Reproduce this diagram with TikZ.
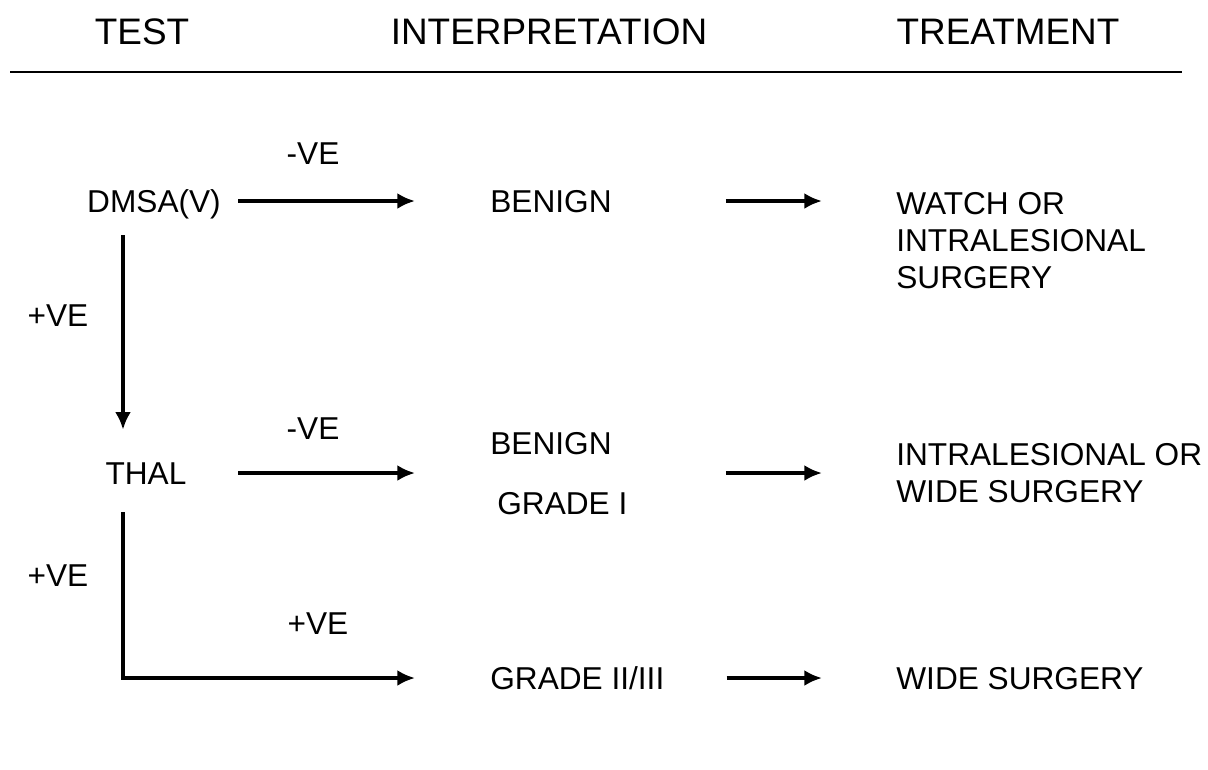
\documentclass[tikz,border=0pt]{standalone}
\usepackage{fontspec}
\setmainfont{Liberation Sans}
\usetikzlibrary{arrows.meta}
\tikzset{
  txt/.style={inner sep=0pt,font=\fontsize{18}{21}\selectfont},
  row/.style={txt,text height=13pt,text depth=0pt},
  head/.style={inner sep=0pt,font=\fontsize{21}{25}\selectfont},
  arr/.style={line width=2pt,-{Latex[length=10pt,width=9pt]}}
}
\begin{document}
\begin{tikzpicture}[x=0.02cm,y=-0.02cm]
  \useasboundingbox (0,0) rectangle (1208,769);
  % headings
  \node (test) at (142,32) [head] {TEST};
  \node (interp) at (549,32) [head] {INTERPRETATION};
  \node (treat) at (1008,32) [head] {TREATMENT};
  \draw[line width=1.6pt] (10,72) -- (1182,72);
  \coordinate (lane) at (123,0);
  % tests
  \node (dmsa) at (154,201) [row] {DMSA(V)};
  \node (thal) at (146,473) [row] {THAL};
  % interpretation
  \node (benign1) at (490,201) [row,anchor=west] {BENIGN};
  \node (benign2) at (490,443) [row,anchor=west] {BENIGN};
  \node (grade1) at (497,503) [row,anchor=west] {GRADE I};
  \node (grade23) at (490,678) [row,anchor=west] {GRADE II/III};
  % treatment
  \node (treat1) at (896,192) [txt,anchor=north west,align=left] {WATCH OR\\INTRALESIONAL\\SURGERY};
  \node (treat2) at (896,473) [txt,anchor=west,align=left] {INTRALESIONAL OR\\WIDE SURGERY};
  \node (treat3) at (896,678) [row,anchor=west] {WIDE SURGERY};
  % results
  \node (neg1) at (313,153) [row] {-VE};
  \node (pos1) at (58,315) [row] {+VE};
  \node (neg2) at (313,428) [row] {-VE};
  \node (pos2) at (58,575) [row] {+VE};
  \node (pos3) at (318,623) [row] {+VE};
  % arrows
  \draw[arr,shorten <=0.34cm,shorten >=1.5cm] (dmsa.east) -- (benign1.west);
  \draw[arr,shorten <=2.28cm,shorten >=1.48cm] (benign1.east) -- (benign1.east -| treat1.west);
  \draw[arr,shorten <=0.45cm,shorten >=0.63cm] (dmsa.south -| lane) -- (thal.north -| lane);
  \draw[arr,shorten <=1.03cm,shorten >=1.5cm] (thal.east) -- (thal.east -| benign2.west);
  \draw[arr,shorten <=2.28cm,shorten >=1.48cm] (benign2.east |- thal.east) -- (thal.east -| treat2.west);
  \draw[arr,shorten <=0.55cm,shorten >=1.5cm] (thal.south -| lane) -- (lane |- grade23.west) -- (grade23.west);
  \draw[arr,shorten <=1.24cm,shorten >=1.48cm] (grade23.east) -- (treat3.west);
\end{tikzpicture}
\end{document}
